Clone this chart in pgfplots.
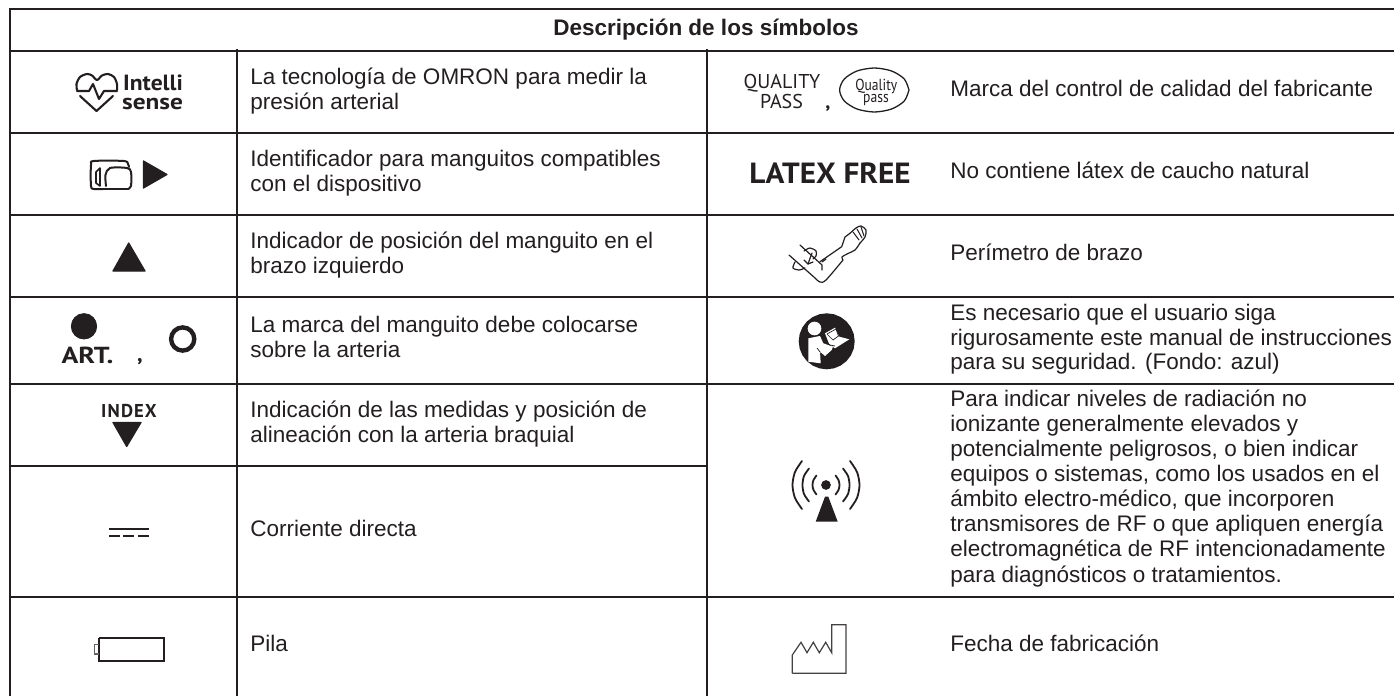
\documentclass[border=0pt]{standalone}
\usepackage{pgfplots}
\pgfplotsset{compat=1.18}
\usepackage{fontspec}
\setmainfont{Liberation Sans}
\newfontfamily\din{PT Sans}
\definecolor{ink}{HTML}{231F20}
\newcommand\T[3]{\node[anchor=base west,inner sep=0pt,text=ink,font=\fontsize{11.25pt}{12pt}\selectfont] at (axis cs:#1,#2) {#3};}
\newcommand\Sym[5]{\node[anchor=base,inner sep=0pt,text=ink,xscale=#5,font=\din\fontsize{#4}{12pt}\selectfont] at (axis cs:#1,#2) {#3};}
\newcommand\SymB[5]{\node[anchor=base,inner sep=0pt,text=ink,xscale=#5,font=\din\bfseries\fontsize{#4}{12pt}\selectfont] at (axis cs:#1,#2) {#3};}
\newcommand\PL[2]{\addplot[draw=ink,line join=round,line cap=round,line width=#1] coordinates {#2};}
\newcommand\SM[2]{\addplot[smooth,draw=ink,line join=round,line cap=round,line width=#1] coordinates {#2};}
\newcommand\FI[1]{\addplot[fill=ink,draw=ink,line join=round,line width=0.6pt] coordinates {#1} --cycle;}
\newcommand\WH[1]{\addplot[fill=white,draw=none] coordinates {#1} --cycle;}
\newcommand\DOT[3]{\addplot[only marks,mark=*,mark size=#3,color=#1,mark options={draw=none}] coordinates {#2};}
\begin{document}
\begin{tikzpicture}
\begin{axis}[
  scale only axis,width=697pt,height=348pt,
  xmin=0,xmax=1394,ymin=0,ymax=696,y dir=reverse,
  axis lines=none,ticks=none,clip=true]
\addplot[fill=white,draw=none] coordinates {(0,0)(1394,0)(1394,696)(0,696)} --cycle;
% grid
\addplot[draw=ink,line width=0.8pt] coordinates {(10,696)(10,9)(1394,9)};
\addplot[draw=ink,line width=0.8pt] coordinates {(10,51)(1394,51)};
\addplot[draw=ink,line width=0.8pt] coordinates {(10,133)(1394,133)};
\addplot[draw=ink,line width=0.8pt] coordinates {(10,215)(1394,215)};
\addplot[draw=ink,line width=0.8pt] coordinates {(10,297)(1394,297)};
\addplot[draw=ink,line width=0.8pt] coordinates {(10,384)(1394,384)};
\addplot[draw=ink,line width=0.8pt] coordinates {(10,466)(708,466)};
\addplot[draw=ink,line width=0.8pt] coordinates {(10,597)(1394,597)};
\addplot[draw=ink,line width=0.8pt] coordinates {(237,49)(237,696)};
\addplot[draw=ink,line width=0.8pt] coordinates {(707,49)(707,696)};
% header
\node[anchor=base,inner sep=0pt,text=ink,font=\bfseries\fontsize{11.25pt}{12pt}\selectfont] at (axis cs:706,35) {Descripción de los símbolos};
% left texts
\T{250}{84.2}{La tecnología de OMRON para medir la}
\T{250}{109.2}{presión arterial}
\T{250}{166.2}{Identificador para manguitos compatibles}
\T{250}{191.2}{con el dispositivo}
\T{250}{248.2}{Indicador de posición del manguito en el}
\T{250}{273.2}{brazo izquierdo}
\T{250}{332.7}{La marca del manguito debe colocarse}
\T{250}{357.7}{sobre la arteria}
\T{250}{417.2}{Indicación de las medidas y posición de}
\T{250}{442.2}{alineación con la arteria braquial}
\T{250}{536}{Corriente directa}
\T{250}{651}{Pila}
% right texts
\T{950}{96.7}{Marca del control de calidad del fabricante}
\T{950}{178.7}{No contiene látex de caucho natural}
\T{950}{260.7}{Perímetro de brazo}
\T{950}{320}{Es necesario que el usuario siga}
\T{950}{345}{rigurosamente este manual de instrucciones}
\T{950}{369.5}{para su seguridad. (Fondo: azul)}
\T{950}{406}{Para indicar niveles de radiación no}
\T{950}{431.5}{ionizante generalmente elevados y}
\T{950}{456.7}{potencialmente peligrosos, o bien indicar}
\T{950}{481}{equipos o sistemas, como los usados en el}
\T{950}{506.5}{ámbito electro-médico, que incorporen}
\T{950}{531.5}{transmisores de RF o que apliquen energía}
\T{950}{556.7}{electromagnética de RF intencionadamente}
\T{950}{582.5}{para diagnósticos o tratamientos.}
\T{950}{651}{Fecha de fabricación}
% Intellisense
\SM{1.05pt}{(77,90)(76.5,84)(80,77)(87,74)(92,75.5)(97,80)(102,75.5)(108,74)(114,77)(117,84)(117,90)}
\PL{1.05pt}{(77,91)(89,91)(93,84)(99,99)(104,91)(117,91)}
\PL{1.05pt}{(80,96)(96.5,111)(113,96)}
\SymB{153}{90.7}{Intelli}{11pt}{1.07}
\SymB{152.5}{109.7}{sense}{11pt}{1.15}
% cuff
\SM{1pt}{(103,189)(94,189)(91,186)(91,165)(94,161)(124,161)(128,164)(129,167)}
\PL{1pt}{(94,189)(128,189)}
\SM{1pt}{(106,186)(105.5,175)(110,168)(127,168)(131,172)(131,186)(128,189)}
\PL{0.8pt}{(96,172)(96,183)(100,186)(100,168)(96,172)}
\FI{(143.5,161)(167,174.5)(143.5,188)}
% triangle
\FI{(128.7,243)(113,271)(145,271)}
% ART
\DOT{ink}{(84,326.3)}{6.35pt}
\SymB{87.5}{363.3}{ART.}{11.6pt}{1.2}
\SymB{140}{361}{,}{11pt}{1}
\addplot[only marks,mark=o,mark size=5.8pt,color=ink,mark options={line width=2.2pt}] coordinates {(182.7,339)};
% INDEX
\SymB{129}{417.3}{\addfontfeature{LetterSpace=6}INDEX}{9.3pt}{1}
\FI{(113,422.5)(141,422.5)(126.7,446.5)}
% DC
\addplot[draw=ink,line width=1pt] coordinates {(109,529)(149,529)};
\addplot[draw=ink,line width=1pt] coordinates {(109,536)(120,536)};
\addplot[draw=ink,line width=1pt] coordinates {(123.3,536)(134.3,536)};
\addplot[draw=ink,line width=1pt] coordinates {(138.3,536)(149,536)};
% battery
\addplot[draw=ink,line width=1pt] coordinates {(99,637.5)(164,637.5)(164,661)(99,661)(99,637.5)};
\addplot[draw=ink!70,line width=0.6pt] coordinates {(99,644.5)(94.5,644.5)(94.5,654)(99,654)};
% quality pass
\Sym{782}{88.7}{QUALITY}{10pt}{1}
\Sym{781.5}{108.3}{PASS}{10pt}{1}
\SymB{828}{108.5}{,}{10pt}{1}
\SM{0.65pt}{(909,90)(904.3,79)(891.6,71)(874.3,68)(857,71)(844.3,79)(839.6,90)(844.3,101)(857,109)(874.3,112)(891.6,109)(904.3,101)(909,90)}
\Sym{876.3}{90.7}{Quality}{8pt}{0.85}
\Sym{876}{102.9}{pass}{8pt}{0.85}
% latex free
\SymB{830}{183.3}{LATEX FREE}{14.6pt}{1.067}
% arm
\PL{0.6pt}{(789,255)(815,278)}
\PL{0.6pt}{(800,245)(822,265)(822,270)}
\PL{0.6pt}{(822,262)(826,259)}
\SM{0.6pt}{(815,278)(820,282)(826,280)(843,260)}
\PL{0.6pt}{(820,261.7)(841.7,246.7)(845,237)(850,233.3)}
\SM{0.6pt}{(843,260)(842,257)(848,253.5)(855,250)(860,243)}
\SM{0.6pt}{(850,233.3)(856,228)(861,226)(866,230)(865,237)(860,243)}
\PL{0.5pt}{(853,232)(859,240)}
\PL{0.5pt}{(857,229)(862,238)}
\PL{0.5pt}{(861,227)(864,236)}
\SM{0.6pt}{(804,251)(810,248)(816,251)(816,256)(813,259)}
\SM{0.6pt}{(795,262)(793,268)(799,270)(805,268)}
\PL{0.6pt}{(812,253)(808,264)}
\PL{0.6pt}{(804,260)(808,264)(813,262)}
% book sign
\addplot[fill=ink,draw=none] coordinates {(854.7,341.3)(853.75,348.55)(850.95,355.3)(846.5,361.1)(840.7,365.55)(833.95,368.35)(826.7,369.3)(819.45,368.35)(812.7,365.55)(806.9,361.1)(802.45,355.3)(799.65,348.55)(798.7,341.3)(799.65,334.05)(802.45,327.3)(806.9,321.5)(812.7,317.05)(819.45,314.25)(826.7,313.3)(833.95,314.25)(840.7,317.05)(846.5,321.5)(850.95,327.3)(853.75,334.05)} --cycle;
\DOT{white}{(814.5,328.5)}{3.2pt}
\WH{(808.3,338.3)(820,336)(823.3,343.3)(830,345.7)(833,346.7)(831.7,350)(825,356)(820,351.7)(820.7,363.3)(808.3,361.7)}
\WH{(825,333.3)(835,327.7)(839.3,336.7)(849.3,339.3)(835,348.3)(829.3,344.3)}
\addplot[draw=ink,line width=0.35pt] coordinates {(827,334)(836,329)(838.5,336)(833,340)(827,334)};
\addplot[draw=ink,line width=0.35pt] coordinates {(823,340)(830,345)(835,346)};
\addplot[draw=ink,line width=0.35pt] coordinates {(817,348)(820,352)};
% radiation
\DOT{ink}{(826,485)}{2.2pt}
\SM{0.9pt}{(816.5,475.5)(813.5,480)(812.5,485)(813.5,490)(816.5,494.5)}
\SM{0.9pt}{(835.5,475.5)(838.5,480)(839.5,485)(838.5,490)(835.5,494.5)}
\SM{0.9pt}{(809,468.5)(804,476)(802.5,485)(804,494)(809,501.5)}
\SM{0.9pt}{(843,468.5)(848,476)(849.5,485)(848,494)(843,501.5)}
\SM{0.9pt}{(802,461)(795,472)(792.5,485)(795,498)(802,509)}
\SM{0.9pt}{(850,461)(857,472)(859.5,485)(857,498)(850,509)}
\addplot[fill=ink,draw=none] coordinates {(825,496.7)(828.3,496.7)(837.7,521.7)(815.7,521.7)} --cycle;
% factory
\addplot[draw=ink!85,line width=0.6pt] coordinates {(792.3,673.3)(792.3,655)(801,642.3)(807,652.7)(813.3,642.3)(819.3,652.7)(825.7,642.3)(831.7,652.7)(831.7,624.7)(846,624.7)(846,673.3)(792.3,673.3)};
\end{axis}
\end{tikzpicture}
\end{document}
